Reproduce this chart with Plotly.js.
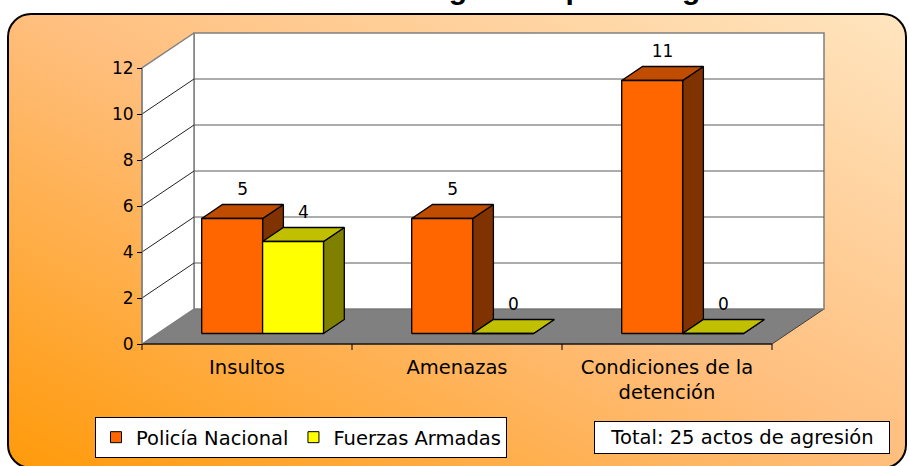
<!DOCTYPE html>
<html><head><meta charset="utf-8">
<script src="https://cdn.plot.ly/plotly-3.0.1.min.js"></script>
<style>
html,body{margin:0;padding:0;background:#fff;overflow:hidden;}
#frame{position:absolute;left:7px;top:13px;width:900px;height:456px;box-sizing:border-box;border:2px solid #000;border-radius:24px;background:linear-gradient(to top right,#FF9A0A 0%,#FFBE7C 50%,#FFE5BF 100%);}
#chart{position:absolute;left:0;top:0;width:909px;height:466px;}
</style></head><body>
<div id="frame"></div><div id="chart"></div>
<script>
// ---- data ----
const categories = ['Insultos', 'Amenazas', 'Condiciones de la<br>detención'];
const seriesNames = ['Policía Nacional', 'Fuerzas Armadas'];
const policia = [5, 5, 11];
const fuerzas = [4, 0, 0];
const yTicks = [0, 2, 4, 6, 8, 10, 12];
const titleText = 'Actos de agresión por categoría';

// ---- style / geometry ----
const W = 909, H = 466;
const X0 = 142, PXC = 210;       // front plane: x pixel of category 0, px per category
const Y0 = 344, PXV = 23;        // front plane: y pixel of value 0, px per unit
const DX = 52 / PXC, DY = 35 / PXV; // depth vector in data units
const yMax = 12;
const nCat = categories.length;
const barW = 0.29, grpStart = 0.21;
const zF = 0.3, zB = 0.7;
const FONT = 'DejaVu Sans, Arial, sans-serif';
const colors = [
  {front: '#FF6600', top: '#C04C00', side: '#803300'},
  {front: '#FFFF00', top: '#C0C000', side: '#808000'}
];

function P(x, y, z) { return [x + z * DX, y + z * DY]; }
const traces = [];
function poly(pts, fill, lc, lw) {
  const xs = pts.map(p => p[0]).concat([pts[0][0]]);
  const ys = pts.map(p => p[1]).concat([pts[0][1]]);
  traces.push({x: xs, y: ys, mode: 'lines', fill: 'toself', fillcolor: fill,
    line: {color: lc, width: lw}, hoverinfo: 'skip', showlegend: false});
}
function seg(pairs, lc, lw) {
  const xs = [], ys = [];
  pairs.forEach(s => { xs.push(s[0][0], s[1][0], null); ys.push(s[0][1], s[1][1], null); });
  traces.push({x: xs, y: ys, mode: 'lines', line: {color: lc, width: lw},
    hoverinfo: 'skip', showlegend: false});
}

// floor
poly([P(0,0,0), P(nCat,0,0), P(nCat,0,1), P(0,0,1)], '#808080', '#404040', 1);
// back wall
poly([P(0,0,1), P(nCat,0,1), P(nCat,yMax,1), P(0,yMax,1)], '#FFFFFF', '#808080', 1.5);
// left wall
poly([P(0,0,0), P(0,0,1), P(0,yMax,1), P(0,yMax,0)], '#FFFFFF', '#808080', 1.5);
// gridlines
const inner = yTicks.filter(v => v > 0 && v < yMax);
seg(inner.map(v => [P(0,v,1), P(nCat,v,1)]), '#5a5a5a', 1);
seg(inner.map(v => [P(0,v,0), P(0,v,1)]), '#222222', 1);
// floor front edge and category ticks
seg([[P(0,0,0), P(nCat,0,0)]], '#000000', 1.2);
const catTicks = [];
for (let i = 0; i <= nCat; i++) catTicks.push([[i, 0], [i, -6 / PXV]]);
seg(catTicks, '#000000', 1);
// front axis line
seg([[P(0,0,0), P(0,yMax,0)]], '#808080', 1.2);

// bars
const series = [policia, fuerzas];
for (let i = 0; i < nCat; i++) {
  series.forEach((vals, s) => {
    const h = vals[i];
    const x0 = i + grpStart + s * barW, x1 = x0 + barW;
    const c = colors[s];
    poly([P(x1,0,zF), P(x1,0,zB), P(x1,h,zB), P(x1,h,zF)], c.side, '#000', 1.3);
    poly([P(x0,h,zF), P(x1,h,zF), P(x1,h,zB), P(x0,h,zB)], c.top, '#000', 1.3);
    poly([P(x0,0,zF), P(x1,0,zF), P(x1,h,zF), P(x0,h,zF)], c.front, '#000', 1.3);
  });
}
// value labels
series.forEach((vals, s) => {
  traces.push({
    x: vals.map((v, i) => i + grpStart + (s + 0.5) * barW + 0.5 * DX),
    y: vals.map(v => v + zB * DY + 5 / PXV),
    text: vals.map(String), mode: 'text', textposition: 'top center',
    textfont: {family: FONT, size: 17, color: '#000'},
    hoverinfo: 'skip', showlegend: false, cliponaxis: false
  });
});
// legend entries
seriesNames.forEach((n, s) => {
  traces.push({x: [null], y: [null], name: n, mode: 'markers', type: 'scatter',
    marker: {symbol: 'square', size: 11, color: colors[s].front, line: {color: '#000', width: 1}},
    showlegend: true, hoverinfo: 'skip'});
});

const total = policia.concat(fuerzas).reduce((a, b) => a + b, 0);

const layout = {
  width: W, height: H,
  margin: {l: 0, r: 0, t: 0, b: 0},
  paper_bgcolor: 'rgba(0,0,0,0)', plot_bgcolor: 'rgba(0,0,0,0)',
  showlegend: true,
  xaxis: {range: [-X0 / PXC, (W - X0) / PXC], anchor: 'free', position: (H - Y0) / H,
    tickvals: categories.map((c, i) => i + 0.5), ticktext: categories, ticks: '',
    ticklabelstandoff: 9,
    showgrid: false, zeroline: false, showline: false, fixedrange: true,
    tickfont: {family: FONT, size: 19.5, color: '#000'}},
  yaxis: {range: [-(H - Y0) / PXV, Y0 / PXV], anchor: 'free', position: X0 / W,
    tickvals: yTicks, ticks: 'outside', ticklen: 5, tickcolor: '#000', tickwidth: 1,
    showgrid: false, zeroline: false, showline: false, fixedrange: true,
    tickfont: {family: FONT, size: 17, color: '#000'}},
  legend: {orientation: 'h', x: 95 / W, xanchor: 'left', y: (H - 417) / H, yanchor: 'top',
    bgcolor: '#FFFFFF', bordercolor: '#000', borderwidth: 1,
    font: {family: FONT, size: 19.5, color: '#000'}},
  annotations: [
    {text: 'Total: ' + total + ' actos de agresión', xref: 'paper', yref: 'paper',
      x: 742 / W, y: (H - 437) / H, xanchor: 'center', yanchor: 'middle', showarrow: false,
      width: 286, align: 'center',
      bgcolor: '#FFFFFF', bordercolor: '#000', borderwidth: 1, borderpad: 4,
      font: {family: FONT, size: 19.5, color: '#000'}},
    {text: '<b>' + titleText + '</b>', xref: 'paper', yref: 'paper',
      x: 526 / W, y: 1 - 7 / H, xanchor: 'center', yanchor: 'bottom', showarrow: false,
      font: {family: 'Liberation Sans, Arial, sans-serif', size: 30, color: '#000'}}
  ]
};
Plotly.newPlot('chart', traces, layout, {displayModeBar: false, staticPlot: true});
</script>
</body></html>
